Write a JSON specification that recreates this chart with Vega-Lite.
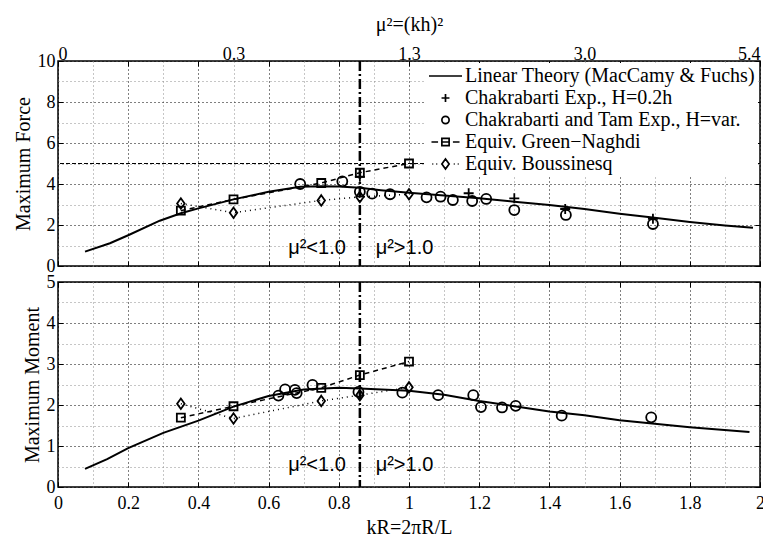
{
  "$schema": "https://vega.github.io/schema/vega-lite/v6.json",
  "autosize": {"type": "none"},
  "padding": {"left": 58, "top": 61, "right": 3, "bottom": 49},
  "params": [{"name": "height", "value": 426}],
  "bounds": "flush",
  "spacing": 16,
  "background": "white",
  "config": {
    "view": {"stroke": "black", "strokeWidth": 1.5},
    "axis": {"domain": false, "labelFont": "Liberation Serif", "labelFontSize": 18, "labelColor": "black", "titleFont": "Liberation Serif", "titleFontSize": 20, "titleFontWeight": "normal", "titleColor": "black", "tickColor": "black", "tickWidth": 1, "tickSize": -5, "gridDash": [1, 3], "gridWidth": 1, "gridOpacity": 1}
  },
  "datasets": {
    "theoryF": [
      {"kR": 0.077, "v": 0.70}, {"kR": 0.148, "v": 1.11}, {"kR": 0.2, "v": 1.50}, {"kR": 0.29, "v": 2.21},
      {"kR": 0.35, "v": 2.57}, {"kR": 0.40, "v": 2.81}, {"kR": 0.50, "v": 3.25}, {"kR": 0.60, "v": 3.62},
      {"kR": 0.69, "v": 3.86}, {"kR": 0.75, "v": 3.89}, {"kR": 0.80, "v": 3.88}, {"kR": 0.86, "v": 3.82},
      {"kR": 0.92, "v": 3.70}, {"kR": 1.00, "v": 3.57}, {"kR": 1.10, "v": 3.44}, {"kR": 1.20, "v": 3.30},
      {"kR": 1.30, "v": 3.14}, {"kR": 1.40, "v": 2.98}, {"kR": 1.50, "v": 2.78}, {"kR": 1.60, "v": 2.55},
      {"kR": 1.70, "v": 2.35}, {"kR": 1.80, "v": 2.15}, {"kR": 1.90, "v": 1.98}, {"kR": 1.98, "v": 1.86}
    ],
    "theoryM": [
      {"kR": 0.077, "v": 0.44}, {"kR": 0.14, "v": 0.68}, {"kR": 0.2, "v": 0.95}, {"kR": 0.3, "v": 1.32},
      {"kR": 0.4, "v": 1.62}, {"kR": 0.5, "v": 1.96}, {"kR": 0.6, "v": 2.22}, {"kR": 0.7, "v": 2.38},
      {"kR": 0.8, "v": 2.42}, {"kR": 0.86, "v": 2.40}, {"kR": 1.0, "v": 2.35}, {"kR": 1.1, "v": 2.25},
      {"kR": 1.2, "v": 2.10}, {"kR": 1.3, "v": 1.97}, {"kR": 1.4, "v": 1.84}, {"kR": 1.5, "v": 1.75},
      {"kR": 1.6, "v": 1.63}, {"kR": 1.7, "v": 1.54}, {"kR": 1.8, "v": 1.46}, {"kR": 1.97, "v": 1.34}
    ],
    "ptsF": [
      {"series": "Chakrabarti Exp., H=0.2h", "kR": 0.86, "v": 4.35},
      {"series": "Chakrabarti Exp., H=0.2h", "kR": 1.17, "v": 3.55},
      {"series": "Chakrabarti Exp., H=0.2h", "kR": 1.30, "v": 3.3},
      {"series": "Chakrabarti Exp., H=0.2h", "kR": 1.445, "v": 2.78},
      {"series": "Chakrabarti Exp., H=0.2h", "kR": 1.695, "v": 2.3},
      {"series": "Chakrabarti and Tam Exp., H=var.", "kR": 0.69, "v": 4.0},
      {"series": "Chakrabarti and Tam Exp., H=var.", "kR": 0.81, "v": 4.13},
      {"series": "Chakrabarti and Tam Exp., H=var.", "kR": 0.86, "v": 3.62},
      {"series": "Chakrabarti and Tam Exp., H=var.", "kR": 0.895, "v": 3.53},
      {"series": "Chakrabarti and Tam Exp., H=var.", "kR": 0.946, "v": 3.5},
      {"series": "Chakrabarti and Tam Exp., H=var.", "kR": 1.05, "v": 3.35},
      {"series": "Chakrabarti and Tam Exp., H=var.", "kR": 1.09, "v": 3.38},
      {"series": "Chakrabarti and Tam Exp., H=var.", "kR": 1.125, "v": 3.22},
      {"series": "Chakrabarti and Tam Exp., H=var.", "kR": 1.18, "v": 3.17},
      {"series": "Chakrabarti and Tam Exp., H=var.", "kR": 1.22, "v": 3.27},
      {"series": "Chakrabarti and Tam Exp., H=var.", "kR": 1.30, "v": 2.73},
      {"series": "Chakrabarti and Tam Exp., H=var.", "kR": 1.447, "v": 2.49},
      {"series": "Chakrabarti and Tam Exp., H=var.", "kR": 1.695, "v": 2.05},
      {"series": "Equiv. Green−Naghdi", "kR": 0.35, "v": 2.7},
      {"series": "Equiv. Green−Naghdi", "kR": 0.5, "v": 3.25},
      {"series": "Equiv. Green−Naghdi", "kR": 0.75, "v": 4.05},
      {"series": "Equiv. Green−Naghdi", "kR": 0.86, "v": 4.55},
      {"series": "Equiv. Green−Naghdi", "kR": 1.0, "v": 5.0},
      {"series": "Equiv. Boussinesq", "kR": 0.35, "v": 3.05},
      {"series": "Equiv. Boussinesq", "kR": 0.5, "v": 2.6},
      {"series": "Equiv. Boussinesq", "kR": 0.75, "v": 3.2},
      {"series": "Equiv. Boussinesq", "kR": 0.86, "v": 3.37},
      {"series": "Equiv. Boussinesq", "kR": 1.0, "v": 3.5}
    ],
    "ptsM": [
      {"series": "Chakrabarti and Tam Exp., H=var.", "kR": 0.628, "v": 2.23},
      {"series": "Chakrabarti and Tam Exp., H=var.", "kR": 0.647, "v": 2.38},
      {"series": "Chakrabarti and Tam Exp., H=var.", "kR": 0.675, "v": 2.37},
      {"series": "Chakrabarti and Tam Exp., H=var.", "kR": 0.68, "v": 2.29},
      {"series": "Chakrabarti and Tam Exp., H=var.", "kR": 0.725, "v": 2.49},
      {"series": "Chakrabarti and Tam Exp., H=var.", "kR": 0.856, "v": 2.32},
      {"series": "Chakrabarti and Tam Exp., H=var.", "kR": 0.981, "v": 2.3},
      {"series": "Chakrabarti and Tam Exp., H=var.", "kR": 1.083, "v": 2.24},
      {"series": "Chakrabarti and Tam Exp., H=var.", "kR": 1.183, "v": 2.24},
      {"series": "Chakrabarti and Tam Exp., H=var.", "kR": 1.205, "v": 1.95},
      {"series": "Chakrabarti and Tam Exp., H=var.", "kR": 1.265, "v": 1.94},
      {"series": "Chakrabarti and Tam Exp., H=var.", "kR": 1.304, "v": 1.98},
      {"series": "Chakrabarti and Tam Exp., H=var.", "kR": 1.435, "v": 1.74},
      {"series": "Chakrabarti and Tam Exp., H=var.", "kR": 1.69, "v": 1.7},
      {"series": "Equiv. Green−Naghdi", "kR": 0.35, "v": 1.69},
      {"series": "Equiv. Green−Naghdi", "kR": 0.5, "v": 1.97},
      {"series": "Equiv. Green−Naghdi", "kR": 0.75, "v": 2.42},
      {"series": "Equiv. Green−Naghdi", "kR": 0.86, "v": 2.73},
      {"series": "Equiv. Green−Naghdi", "kR": 1.0, "v": 3.06},
      {"series": "Equiv. Boussinesq", "kR": 0.35, "v": 2.03},
      {"series": "Equiv. Boussinesq", "kR": 0.5, "v": 1.67},
      {"series": "Equiv. Boussinesq", "kR": 0.75, "v": 2.1},
      {"series": "Equiv. Boussinesq", "kR": 0.86, "v": 2.24},
      {"series": "Equiv. Boussinesq", "kR": 1.0, "v": 2.43}
    ],
    "labF": [
      {"kR": 0.82, "v": 0.88, "t": "μ²<1.0", "side": "L"},
      {"kR": 0.905, "v": 0.88, "t": "μ²>1.0", "side": "R"}
    ],
    "labM": [
      {"kR": 0.82, "v": 0.54, "t": "μ²<1.0", "side": "L"},
      {"kR": 0.905, "v": 0.54, "t": "μ²>1.0", "side": "R"}
    ],
    "refs": [{"kR": 0.86, "v": 5}]
  },
  "resolve": {"scale": {"shape": "independent"}, "legend": {"shape": "independent"}},
  "vconcat": [
    {
      "width": 702,
      "height": 205,
      "resolve": {"axis": {"x": "independent", "y": "independent"}},
      "layer": [
        {
          "data": {"name": "theoryF"},
          "mark": {"type": "line", "color": "black", "strokeWidth": 2},
          "encoding": {
            "x": {"field": "kR", "type": "quantitative", "scale": {"domain": [0, 2], "nice": false, "zero": false},
              "axis": {"values": [0, 0.1, 0.2, 0.3, 0.4, 0.5, 0.6, 0.7, 0.8, 0.9, 1, 1.1, 1.2, 1.3, 1.4, 1.5, 1.6, 1.7, 1.8, 1.9, 2],
                "labels": false, "title": null, "grid": true,
                "gridColor": {"condition": {"test": "round(datum.value*10)%2==0", "value": "black"}, "value": "#8c8c8c"},
                "tickOpacity": {"condition": {"test": "round(datum.value*10)%2==0", "value": 1}, "value": 0}}},
            "y": {"field": "v", "type": "quantitative", "scale": {"domain": [0, 10], "nice": false},
              "axis": {"values": [0, 1, 2, 3, 4, 5, 6, 7, 8, 9, 10], "title": "Maximum Force", "titlePadding": 4, "labelPadding": 8,
                "labelExpr": "datum.value % 2 == 0 ? '' + datum.value : ''", "grid": true,
                "gridColor": {"condition": {"test": "datum.value % 2 == 0", "value": "black"}, "value": "#8c8c8c"},
                "tickOpacity": {"condition": {"test": "datum.value % 2 == 0", "value": 1}, "value": 0}}}
          }
        },
        {
          "data": {"name": "ptsF"},
          "transform": [{"filter": {"field": "series", "equal": "Equiv. Green−Naghdi"}}],
          "mark": {"type": "line", "color": "black", "strokeWidth": 1.5, "strokeDash": [5, 4]},
          "encoding": {"x": {"field": "kR", "type": "quantitative", "axis": null}, "y": {"field": "v", "type": "quantitative", "axis": null}}
        },
        {
          "data": {"name": "ptsF"},
          "transform": [{"filter": {"field": "series", "equal": "Equiv. Boussinesq"}}],
          "mark": {"type": "line", "color": "black", "strokeWidth": 1.5, "strokeDash": [1, 4]},
          "encoding": {"x": {"field": "kR", "type": "quantitative", "axis": null}, "y": {"field": "v", "type": "quantitative", "axis": null}}
        },
        {
          "data": {"name": "ptsF"},
          "transform": [{"filter": {"field": "series", "equal": "Chakrabarti Exp., H=0.2h"}}],
          "mark": {"type": "point", "shape": "M-1,0H1M0,-1V1", "filled": false, "color": "black", "strokeWidth": 1.8, "size": 100, "opacity": 1},
          "encoding": {"x": {"field": "kR", "type": "quantitative", "axis": null}, "y": {"field": "v", "type": "quantitative", "axis": null}}
        },
        {
          "data": {"name": "ptsF"},
          "transform": [{"filter": {"field": "series", "equal": "Chakrabarti and Tam Exp., H=var."}}],
          "mark": {"type": "point", "shape": "M1,0A1,1,0,1,1,-1,0A1,1,0,1,1,1,0Z", "filled": false, "color": "black", "strokeWidth": 1.8, "size": 100, "opacity": 1},
          "encoding": {"x": {"field": "kR", "type": "quantitative", "axis": null}, "y": {"field": "v", "type": "quantitative", "axis": null}}
        },
        {
          "data": {"name": "ptsF"},
          "transform": [{"filter": {"field": "series", "equal": "Equiv. Green−Naghdi"}}],
          "mark": {"type": "point", "shape": "M-0.8,-0.8H0.8V0.8H-0.8Z", "filled": false, "color": "black", "strokeWidth": 1.8, "size": 100, "opacity": 1},
          "encoding": {"x": {"field": "kR", "type": "quantitative", "axis": null}, "y": {"field": "v", "type": "quantitative", "axis": null}}
        },
        {
          "data": {"name": "ptsF"},
          "transform": [{"filter": {"field": "series", "equal": "Equiv. Boussinesq"}}],
          "mark": {"type": "point", "shape": "M0,-1.05L0.75,0L0,1.05L-0.75,0Z", "filled": false, "color": "black", "strokeWidth": 1.8, "size": 100, "opacity": 1},
          "encoding": {"x": {"field": "kR", "type": "quantitative", "axis": null}, "y": {"field": "v", "type": "quantitative", "axis": null}}
        },
        {
          "data": {"name": "ptsF"},
          "mark": {"type": "point", "filled": false, "color": "black", "strokeWidth": 1.7, "size": 1089, "opacity": 0},
          "encoding": {
            "x": {"field": "kR", "type": "quantitative", "axis": null},
            "y": {"field": "v", "type": "quantitative", "axis": null},
            "shape": {"field": "series", "type": "nominal",
              "scale": {"domain": ["Linear Theory (MacCamy & Fuchs)", "Chakrabarti Exp., H=0.2h", "Chakrabarti and Tam Exp., H=var.", "Equiv. Green−Naghdi", "Equiv. Boussinesq"],
                "range": ["M-1,0H1", "M-0.24,0H0.24M0,-0.24V0.24", "M0.22,0A0.22,0.22,0,1,1,-0.22,0A0.22,0.22,0,1,1,0.22,0Z", "M-0.85,0H-0.45M0.45,0H0.85M-0.22,-0.22H0.22V0.22H-0.22ZM-0.22,0H0.22", "M-0.8,0H-0.74M-0.56,0H-0.5M0.5,0H0.56M0.74,0H0.8M0,-0.3L0.22,0L0,0.3L-0.22,0Z"]},
              "legend": {"title": null, "orient": "top-right", "offset": 2, "padding": 3, "fillColor": "white",
                "symbolSize": 1089, "clipHeight": 20, "rowPadding": 2, "symbolOpacity": 1,
                "symbolStrokeColor": "black", "symbolFillColor": "transparent", "symbolStrokeWidth": 1.7,
                "labelFont": "Liberation Serif", "labelFontSize": 20, "labelColor": "black", "labelOffset": 2, "labelLimit": 400}}
          }
        },
        {
          "data": {"name": "refs"},
          "mark": {"type": "rule", "color": "black", "strokeWidth": 2.5, "strokeDash": [10, 3, 2, 3]},
          "encoding": {
            "x": {"field": "kR", "type": "quantitative",
              "axis": {"orient": "top", "values": [0, 0.2, 0.4, 0.5, 0.6, 0.8, 1, 1.2, 1.4, 1.5, 1.6, 1.8, 2],
                "labelExpr": "abs(datum.value*2 - round(datum.value*2)) < 0.001 ? ['0','0.3','1.3','3.0','5.4'][round(datum.value*2)] : ''",
                "tickOpacity": {"condition": {"test": "abs(datum.value*5 - round(datum.value*5)) < 0.001", "value": 1}, "value": 0},
                "title": "μ²=(kh)²", "titlePadding": 11, "labelPadding": 3, "labelFlush": true, "grid": false}}
          }
        },
        {
          "data": {"name": "refs"},
          "mark": {"type": "rule", "color": "black", "strokeWidth": 1.2, "strokeDash": [4, 2]},
          "encoding": {"y": {"field": "v", "type": "quantitative", "axis": null}}
        },
        {
          "data": {"name": "labF"},
          "transform": [{"filter": {"field": "side", "equal": "L"}}],
          "mark": {"type": "text", "font": "Liberation Sans", "fontSize": 20, "align": "right", "baseline": "middle", "color": "black"},
          "encoding": {
            "x": {"field": "kR", "type": "quantitative", "axis": null},
            "y": {"field": "v", "type": "quantitative",
              "axis": {"orient": "right", "values": [0, 2, 4, 6, 8, 10], "labels": false, "title": null, "grid": false}},
            "text": {"field": "t"}
          }
        },
        {
          "data": {"name": "labF"},
          "transform": [{"filter": {"field": "side", "equal": "R"}}],
          "mark": {"type": "text", "font": "Liberation Sans", "fontSize": 20, "align": "left", "baseline": "middle", "color": "black"},
          "encoding": {
            "x": {"field": "kR", "type": "quantitative", "axis": null},
            "y": {"field": "v", "type": "quantitative", "axis": null},
            "text": {"field": "t"}
          }
        }
      ]
    },
    {
      "width": 702,
      "height": 205,
      "resolve": {"axis": {"x": "independent", "y": "independent"}},
      "layer": [
        {
          "data": {"name": "theoryM"},
          "mark": {"type": "line", "color": "black", "strokeWidth": 2},
          "encoding": {
            "x": {"field": "kR", "type": "quantitative", "scale": {"domain": [0, 2], "nice": false, "zero": false},
              "axis": {"values": [0, 0.1, 0.2, 0.3, 0.4, 0.5, 0.6, 0.7, 0.8, 0.9, 1, 1.1, 1.2, 1.3, 1.4, 1.5, 1.6, 1.7, 1.8, 1.9, 2],
                "labelExpr": "round(datum.value*10)%2==0 ? '' + (round(datum.value*10)/10) : ''",
                "title": "kR=2πR/L", "titlePadding": 5, "labelPadding": 12, "labelFlush": false, "labelBound": false, "grid": true,
                "gridColor": {"condition": {"test": "round(datum.value*10)%2==0", "value": "black"}, "value": "#8c8c8c"},
                "tickOpacity": {"condition": {"test": "round(datum.value*10)%2==0", "value": 1}, "value": 0}}},
            "y": {"field": "v", "type": "quantitative", "scale": {"domain": [0, 5], "nice": false},
              "axis": {"values": [0, 0.5, 1, 1.5, 2, 2.5, 3, 3.5, 4, 4.5, 5], "title": "Maximum Moment", "titlePadding": 4, "labelPadding": 8,
                "labelExpr": "datum.value % 1 == 0 ? '' + datum.value : ''", "grid": true,
                "gridColor": {"condition": {"test": "datum.value % 1 == 0", "value": "black"}, "value": "#8c8c8c"},
                "tickOpacity": {"condition": {"test": "datum.value % 1 == 0", "value": 1}, "value": 0}}}
          }
        },
        {
          "data": {"name": "ptsM"},
          "transform": [{"filter": {"field": "series", "equal": "Equiv. Green−Naghdi"}}],
          "mark": {"type": "line", "color": "black", "strokeWidth": 1.5, "strokeDash": [5, 4]},
          "encoding": {"x": {"field": "kR", "type": "quantitative", "axis": null}, "y": {"field": "v", "type": "quantitative", "axis": null}}
        },
        {
          "data": {"name": "ptsM"},
          "transform": [{"filter": {"field": "series", "equal": "Equiv. Boussinesq"}}],
          "mark": {"type": "line", "color": "black", "strokeWidth": 1.5, "strokeDash": [1, 4]},
          "encoding": {"x": {"field": "kR", "type": "quantitative", "axis": null}, "y": {"field": "v", "type": "quantitative", "axis": null}}
        },
        {
          "data": {"name": "ptsM"},
          "transform": [{"filter": {"field": "series", "equal": "Chakrabarti and Tam Exp., H=var."}}],
          "mark": {"type": "point", "shape": "M1,0A1,1,0,1,1,-1,0A1,1,0,1,1,1,0Z", "filled": false, "color": "black", "strokeWidth": 1.8, "size": 100, "opacity": 1},
          "encoding": {"x": {"field": "kR", "type": "quantitative", "axis": null}, "y": {"field": "v", "type": "quantitative", "axis": null}}
        },
        {
          "data": {"name": "ptsM"},
          "transform": [{"filter": {"field": "series", "equal": "Equiv. Green−Naghdi"}}],
          "mark": {"type": "point", "shape": "M-0.8,-0.8H0.8V0.8H-0.8Z", "filled": false, "color": "black", "strokeWidth": 1.8, "size": 100, "opacity": 1},
          "encoding": {"x": {"field": "kR", "type": "quantitative", "axis": null}, "y": {"field": "v", "type": "quantitative", "axis": null}}
        },
        {
          "data": {"name": "ptsM"},
          "transform": [{"filter": {"field": "series", "equal": "Equiv. Boussinesq"}}],
          "mark": {"type": "point", "shape": "M0,-1.05L0.75,0L0,1.05L-0.75,0Z", "filled": false, "color": "black", "strokeWidth": 1.8, "size": 100, "opacity": 1},
          "encoding": {"x": {"field": "kR", "type": "quantitative", "axis": null}, "y": {"field": "v", "type": "quantitative", "axis": null}}
        },
        {
          "data": {"name": "refs"},
          "mark": {"type": "rule", "color": "black", "strokeWidth": 2.5, "strokeDash": [10, 3, 2, 3]},
          "encoding": {
            "x": {"field": "kR", "type": "quantitative",
              "axis": {"orient": "top", "values": [0, 0.2, 0.4, 0.6, 0.8, 1, 1.2, 1.4, 1.6, 1.8, 2], "labels": false, "title": null, "grid": false}}
          }
        },
        {
          "data": {"name": "labM"},
          "transform": [{"filter": {"field": "side", "equal": "L"}}],
          "mark": {"type": "text", "font": "Liberation Sans", "fontSize": 20, "align": "right", "baseline": "middle", "color": "black"},
          "encoding": {
            "x": {"field": "kR", "type": "quantitative", "axis": null},
            "y": {"field": "v", "type": "quantitative",
              "axis": {"orient": "right", "values": [0, 1, 2, 3, 4, 5], "labels": false, "title": null, "grid": false}},
            "text": {"field": "t"}
          }
        },
        {
          "data": {"name": "labM"},
          "transform": [{"filter": {"field": "side", "equal": "R"}}],
          "mark": {"type": "text", "font": "Liberation Sans", "fontSize": 20, "align": "left", "baseline": "middle", "color": "black"},
          "encoding": {
            "x": {"field": "kR", "type": "quantitative", "axis": null},
            "y": {"field": "v", "type": "quantitative", "axis": null},
            "text": {"field": "t"}
          }
        }
      ]
    }
  ]
}
